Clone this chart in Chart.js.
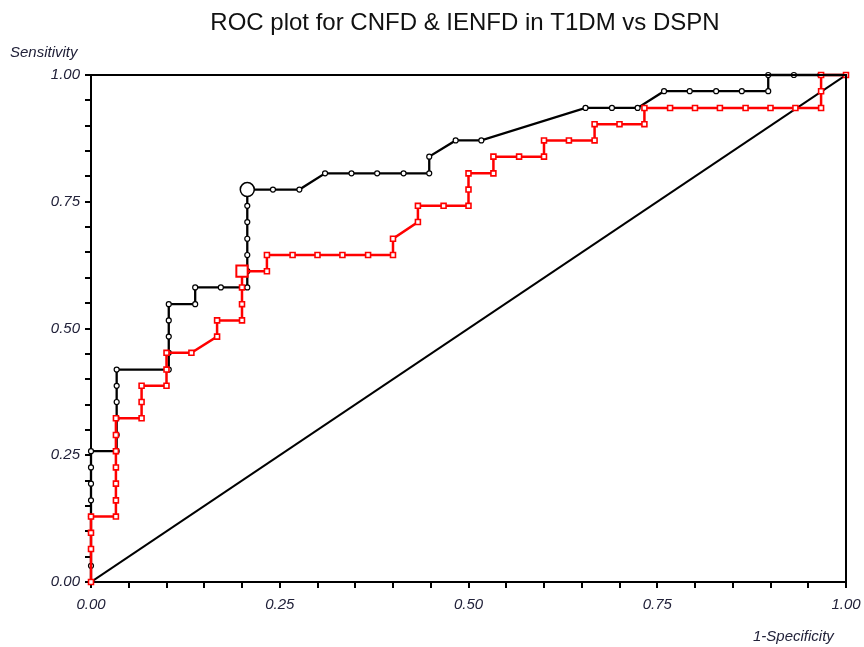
<!DOCTYPE html>
<html>
<head>
<meta charset="utf-8">
<script src="https://cdn.jsdelivr.net/npm/chart.js@4"></script>
<style>
  body { margin: 0; background: #fff; }
  #roc { display: block; }
</style>
</head>
<body>
<canvas id="roc" width="864" height="647"></canvas>
<script>
// CNFD curve (black), 1-specificity / sensitivity
const cnfdX = [0, 0, 0, 0, 0, 0, 0, 0, 0,
  0.034, 0.034, 0.034, 0.034, 0.034, 0.034,
  0.103, 0.103, 0.103, 0.103, 0.103,
  0.138, 0.138, 0.172, 0.207, 0.207, 0.207, 0.207, 0.207, 0.207, 0.207,
  0.241, 0.276, 0.310, 0.345, 0.379, 0.414, 0.448, 0.448, 0.483, 0.517, 0.655,
  0.690, 0.724, 0.759, 0.793, 0.828, 0.862, 0.897, 0.897, 0.931, 0.966, 1];
const cnfdY = [0, 0.032, 0.065, 0.097, 0.129, 0.161, 0.194, 0.226, 0.258,
  0.258, 0.290, 0.323, 0.355, 0.387, 0.419,
  0.419, 0.452, 0.484, 0.516, 0.548,
  0.548, 0.581, 0.581, 0.581, 0.613, 0.645, 0.677, 0.710, 0.742, 0.774,
  0.774, 0.774, 0.806, 0.806, 0.806, 0.806, 0.806, 0.839, 0.871, 0.871, 0.935,
  0.935, 0.935, 0.968, 0.968, 0.968, 0.968, 0.968, 1, 1, 1, 1];
const cnfdCut = 29; // optimal cut-off point

// IENFD curve (red)
const ienfdX = [0, 0, 0, 0,
  0.033, 0.033, 0.033, 0.033, 0.033, 0.033, 0.033,
  0.067, 0.067, 0.067,
  0.100, 0.100, 0.100,
  0.133, 0.167, 0.167,
  0.200, 0.200, 0.200, 0.200,
  0.233, 0.233, 0.267, 0.300, 0.333, 0.367, 0.400,
  0.400, 0.433, 0.433, 0.467, 0.500, 0.500, 0.500,
  0.533, 0.533, 0.567, 0.600, 0.600, 0.633, 0.667, 0.667, 0.700, 0.733, 0.733,
  0.767, 0.800, 0.833, 0.867, 0.900, 0.933, 0.967, 0.967, 0.967, 1];
const ienfdY = [0, 0.065, 0.097, 0.129,
  0.129, 0.161, 0.194, 0.226, 0.258, 0.290, 0.323,
  0.323, 0.355, 0.387,
  0.387, 0.419, 0.452,
  0.452, 0.484, 0.516,
  0.516, 0.548, 0.581, 0.613,
  0.613, 0.645, 0.645, 0.645, 0.645, 0.645, 0.645,
  0.677, 0.710, 0.742, 0.742, 0.742, 0.774, 0.806,
  0.806, 0.839, 0.839, 0.839, 0.871, 0.871, 0.871, 0.903, 0.903, 0.903, 0.935,
  0.935, 0.935, 0.935, 0.935, 0.935, 0.935, 0.935, 0.968, 1, 1];
const ienfdCut = 23;

const chanceX = [0, 1];
const chanceY = [0, 1];

const tickLabels = ['0.00', '0.25', '0.50', '0.75', '1.00'];

const toPoints = (xs, ys) => xs.map((x, i) => ({x: x, y: ys[i]}));

const labelFont = {family: 'Liberation Sans, Arial, sans-serif', size: 15, style: 'italic'};
const labelColor = '#22223a';

function tickText(value) {
  const q = value * 4;
  if (Math.abs(q - Math.round(q)) < 1e-6) return tickLabels[Math.round(q)];
  return '';
}

// titles and frame
const extras = {
  id: 'extras',
  afterDraw(chart) {
    const ctx = chart.ctx;
    const a = chart.chartArea;
    ctx.save();
    ctx.strokeStyle = '#000';
    ctx.lineWidth = 2;
    ctx.beginPath();
    ctx.moveTo(a.left, a.top);
    ctx.lineTo(a.right, a.top);
    ctx.lineTo(a.right, a.bottom);
    ctx.stroke();

    ctx.fillStyle = '#111';
    ctx.font = '24px "Liberation Sans", Arial, sans-serif';
    ctx.textAlign = 'center';
    ctx.textBaseline = 'alphabetic';
    ctx.fillText('ROC plot for CNFD & IENFD in T1DM vs DSPN', 465, 30);

    ctx.fillStyle = labelColor;
    ctx.font = 'italic 15px "Liberation Sans", Arial, sans-serif';
    ctx.textAlign = 'left';
    ctx.fillText('Sensitivity', 10, 57);
    ctx.fillText('1-Specificity', 753, 641);
    ctx.restore();
  }
};

new Chart(document.getElementById('roc'), {
  type: 'scatter',
  data: {
    datasets: [
      {
        label: 'IENFD',
        data: toPoints(ienfdX, ienfdY),
        showLine: true,
        borderColor: '#ff0000',
        borderWidth: 2.5,
        pointStyle: 'rect',
        pointRadius: ctx => ctx.dataIndex === ienfdCut ? 8 : 3.5,
        pointBorderWidth: ctx => ctx.dataIndex === ienfdCut ? 2 : 1.6,
        pointBackgroundColor: '#fff',
        pointBorderColor: '#ff0000',
        tension: 0,
        clip: false,
        order: 0
      },
      {
        label: 'CNFD',
        data: toPoints(cnfdX, cnfdY),
        showLine: true,
        borderColor: '#000',
        borderWidth: 2.3,
        pointStyle: 'circle',
        pointRadius: ctx => ctx.dataIndex === cnfdCut ? 7 : 2.5,
        pointBorderWidth: ctx => ctx.dataIndex === cnfdCut ? 1.5 : 1.2,
        pointBackgroundColor: '#fff',
        pointBorderColor: '#000',
        tension: 0,
        clip: false,
        order: 1
      },
      {
        label: 'chance',
        data: toPoints(chanceX, chanceY),
        showLine: true,
        borderColor: '#000',
        borderWidth: 2,
        pointRadius: 0,
        tension: 0,
        order: 2
      }
    ]
  },
  options: {
    responsive: false,
    animation: false,
    layout: {padding: {top: 75, right: 18, left: 0, bottom: 0}},
    plugins: {
      legend: {display: false},
      tooltip: {enabled: false},
      title: {display: false}
    },
    scales: {
      x: {
        type: 'linear',
        min: 0,
        max: 1,
        afterFit: s => { s.height = 65; s.paddingLeft = 0; s.paddingRight = 0; },
        border: {display: true, color: '#000', width: 2},
        grid: {drawOnChartArea: false, drawTicks: true, tickLength: 6, color: '#000', lineWidth: 2},
        ticks: {
          stepSize: 0.05,
          autoSkip: false,
          maxRotation: 0,
          padding: 8,
          font: labelFont,
          color: labelColor,
          callback: tickText
        }
      },
      y: {
        type: 'linear',
        min: 0,
        max: 1,
        afterFit: s => { s.width = 91; s.paddingTop = 0; s.paddingBottom = 0; },
        border: {display: true, color: '#000', width: 2},
        grid: {drawOnChartArea: false, drawTicks: true, tickLength: 6, color: '#000', lineWidth: 2},
        ticks: {
          stepSize: 0.05,
          autoSkip: false,
          padding: 5,
          font: labelFont,
          color: labelColor,
          callback: tickText
        }
      }
    }
  },
  plugins: [extras]
});
</script>
</body>
</html>
